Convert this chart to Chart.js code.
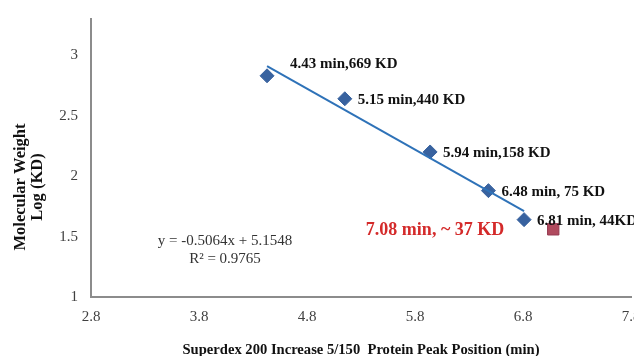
<!DOCTYPE html>
<html>
<head>
<meta charset="utf-8">
<script src="https://cdn.jsdelivr.net/npm/chart.js@4.4.1/dist/chart.umd.min.js"></script>
<style>
  html, body { margin: 0; padding: 0; background: #fff; }
  #wrap { width: 634px; height: 356px; position: relative; }
</style>
</head>
<body>
<div id="wrap"><canvas id="grafico"></canvas></div>
<script>
// dados
const tempos = [4.43, 5.15, 5.94, 6.48, 6.81]            // posição do pico (min)
const logPM = [2.83, 2.64, 2.20, 1.88, 1.64]             // log(KD)
const rotulos = ['4.43 min,669 KD', '5.15 min,440 KD', '5.94 min,158 KD', '6.48 min, 75 KD', '6.81 min, 44KD']

const linhaX = [4.43, 6.81]   // extremos da linha de tendência
const linhaY = [2.91, 1.71]

const amostraX = [7.08]
const amostraY = [1.56]
const amostraRotulo = '7.08 min, ~ 37 KD'

const equacao = ['y = -0.5064x + 5.1548', 'R\u00b2 = 0.9765']

const ticksX = [2.8, 3.8, 4.8, 5.8, 6.8, 7.8]
const ticksY = [1, 1.5, 2, 2.5, 3]

const tituloX = 'Superdex 200 Increase 5/150  Protein Peak Position (min)'
const tituloY = ['Molecular Weight', 'Log (KD)']

const serif = '"Liberation Serif", "Times New Roman", serif'

// plugin que escreve os textos extras
const textos = {
  id: 'textos',
  afterDatasetsDraw(chart) {
    const { ctx, scales: { x, y } } = chart
    ctx.save()
    ctx.fillStyle = '#111'
    ctx.textBaseline = 'middle'
    ctx.textAlign = 'left'
    ctx.font = 'bold 15px ' + serif
    rotulos.forEach((r, i) => {
      const px = x.getPixelForValue(tempos[i])
      const py = y.getPixelForValue(logPM[i])
      if (i === 0) ctx.fillText(r, px + 23, py - 12)
      else ctx.fillText(r, px + 13, py + 1)
    })

    // rótulo da amostra
    ctx.fillStyle = '#d42a2a'
    ctx.font = 'bold 18px ' + serif
    ctx.textAlign = 'right'
    ctx.fillText(amostraRotulo, x.getPixelForValue(amostraX[0]) - 49, y.getPixelForValue(amostraY[0]) + 1)

    // equação
    ctx.fillStyle = '#333'
    ctx.font = '15px ' + serif
    ctx.textAlign = 'center'
    ctx.fillText(equacao[0], 225, 241)
    ctx.fillText(equacao[1], 225, 259)

    // título do eixo x
    ctx.fillStyle = '#111'
    ctx.font = 'bold 14.6px ' + serif
    ctx.fillText(tituloX, 361, 350)

    // título do eixo y
    ctx.font = 'bold 16.5px ' + serif
    ctx.translate(0, 187)
    ctx.rotate(-Math.PI / 2)
    ctx.fillText(tituloY[0], 0, 21)
    ctx.fillText(tituloY[1], 0, 38)
    ctx.restore()
  },
}

const eixo = { color: '#8c8c8c', width: 2 }
const pontosAmostra = amostraX.map((v, i) => ({ x: v, y: amostraY[i] }))

new Chart(document.getElementById('grafico'), {
  type: 'scatter',
  data: {
    datasets: [
      {
        label: 'linha',
        data: linhaX.map((v, i) => ({ x: v, y: linhaY[i] })),
        showLine: true,
        borderColor: '#2e72b8',
        borderWidth: 2,
        pointRadius: 0,
      },
      {
        label: 'padrões',
        data: tempos.map((v, i) => ({ x: v, y: logPM[i] })),
        pointStyle: 'rectRot',
        pointRadius: 7,
        backgroundColor: '#38629f',
        borderColor: '#38629f',
        borderWidth: 1,
      },
      {
        label: 'amostra',
        data: pontosAmostra,
        pointStyle: 'rect',
        pointRadius: 8,
        backgroundColor: '#b04a5e',
        borderColor: '#94364e',
        borderWidth: 1,
      },
      {
        label: 'amostra x',
        data: pontosAmostra,
        pointStyle: 'crossRot',
        pointRadius: 6,
        borderColor: '#574a98',
        borderWidth: 1.5,
      },
    ],
  },
  options: {
    responsive: true,
    maintainAspectRatio: false,
    animation: false,
    layout: { autoPadding: false, padding: { top: 19, right: 3, left: 0, bottom: 0 } },
    plugins: { legend: { display: false }, tooltip: { enabled: false } },
    scales: {
      x: {
        type: 'linear',
        min: 2.8,
        max: 7.8,
        grid: { display: false, drawTicks: false },
        border: eixo,
        afterBuildTicks: s => { s.ticks = ticksX.map(v => ({ value: v })) },
        ticks: { padding: 11, color: '#404040', font: { family: serif, size: 15 }, maxRotation: 0, callback: v => v.toFixed(1) },
        afterFit: s => { s.height = 59; s.paddingLeft = 0; s.paddingRight = 0 },
      },
      y: {
        min: 1,
        max: 3.3,
        grid: { display: false, drawTicks: false },
        border: eixo,
        afterBuildTicks: s => { s.ticks = ticksY.map(v => ({ value: v })) },
        ticks: { padding: 13, color: '#404040', font: { family: serif, size: 15 }, callback: v => String(v) },
        afterFit: s => { s.width = 91; s.paddingTop = 0; s.paddingBottom = 0 },
      },
    },
  },
  plugins: [textos],
})
</script>
</body>
</html>
